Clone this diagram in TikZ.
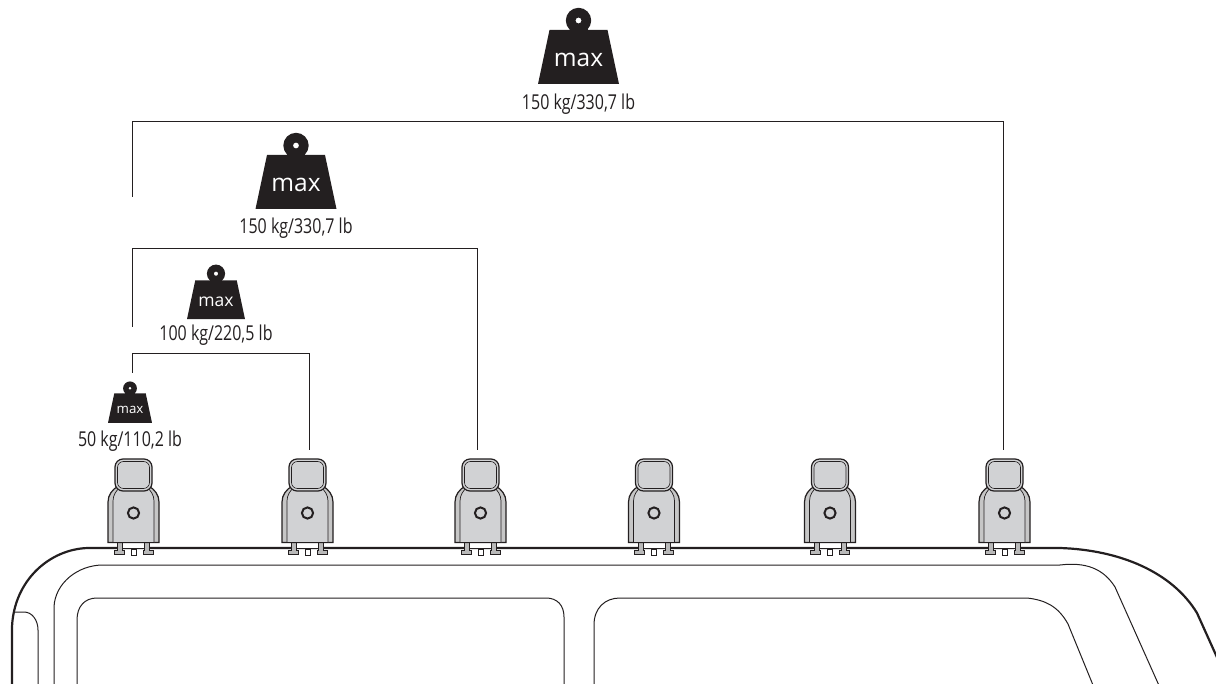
\documentclass[tikz,border=0pt]{standalone}
\usepackage{fontspec}
\setmainfont[FakeStretch=0.78]{Open Sans}
\newfontfamily\maxfont{Open Sans}
\usepackage{xcolor}
\usepackage{tikz}
\usetikzlibrary{positioning}
\definecolor{clampgrey}{HTML}{D1D2D4}
\definecolor{inkblack}{HTML}{231F20}

\begin{document}
\begin{tikzpicture}[
    x=1pt,y=-1pt,
    roofline/.style={draw=inkblack,line width=1pt},
    bracket/.style={draw=inkblack,line width=1pt},
    caption/.style={text=inkblack,font=\fontsize{20.5}{22}\selectfont,inner sep=0pt},
    clampline/.style={draw=inkblack,line width=1pt,fill=clampgrey},
    weight/.pic={
        \fill[inkblack] (-29,23) -- (29,23) -- (40.5,77) -- (-40.5,77) -- cycle;
        \fill[inkblack,even odd rule] (0,13.5) circle (12.7) (0,13.5) circle (3);
        \fill[inkblack] (-9,20) rectangle (9,24);
        \node[transform shape,text=white,font=\maxfont\fontsize{24.5}{24.5}\selectfont,inner sep=0pt] at (0,53) {max};
    },
    clamp/.pic={
        % feet and pins
        \draw[clampline,fill=white,line width=0.6pt] (-2.5,36) rectangle (2.5,42);
        \draw[clampline,line width=0.6pt,fill=white] (-14,29) rectangle (14,35);
        \draw[clampline,fill=gray!55] (-19.5,37) -- (-16,37) -- (-16,29) -- (-11,29) -- (-11,37)
            -- (-9.5,37) -- (-9.5,41.5) -- (-19.5,41.5) -- cycle;
        \draw[clampline,fill=gray!55] (19.5,37) -- (16,37) -- (16,29) -- (11,29) -- (11,37)
            -- (9.5,37) -- (9.5,41.5) -- (19.5,41.5) -- cycle;
        % body
        \draw[clampline,fill=gray!45,line width=1.2pt] (-25.5,29.5) -- (-25.5,-11)
            .. controls (-25.5,-18) and (-21,-24) .. (-15,-27)
            -- (15,-27) .. controls (21,-24) and (25.5,-18) .. (25.5,-11) -- (25.5,29.5) -- cycle;
        \draw[clampline,line width=0.7pt] (-20.5,29.5) -- (-20.5,-12)
            .. controls (-20.5,-18) and (-17,-23) .. (-13,-26)
            -- (13,-26) .. controls (17,-23) and (20.5,-18) .. (20.5,-12) -- (20.5,29.5) -- cycle;
        % head
        \draw[clampline,rounded corners=8pt,line width=1.2pt] (-18.5,-54) rectangle (18.5,-22);
        \draw[draw=inkblack,rounded corners=6pt,line width=0.6pt] (-16,-51.5) rectangle (16,-24.5);
        % bolt
        \draw[draw=inkblack,line width=2pt,fill=clampgrey] (0,0) circle (5.6);
    }
]
\useasboundingbox (0,0) rectangle (1216,684);

% loads
\pic at (578.5,7) {weight};
\pic at (296,132) {weight};
\pic[scale=0.716] at (216,264) {weight};
\pic[scale=0.543] at (130,381) {weight};

\node[caption] (load-a) at (578.5,104) {150 kg/330,7 lb};
\node[caption] (load-b) at (296,228) {150 kg/330,7 lb};
\node[caption] (load-c) at (216,335) {100 kg/220,5 lb};
\node[caption] (load-d) at (130,441) {50 kg/110,2 lb};

% roof
\begin{scope}
\clip (0,0) rectangle (1216,684);
\draw[roofline,line width=2.2pt] (12,690) -- (12,627)
    .. controls (14,580) and (50,549) .. (88,548)
    -- (1060,548) .. controls (1120,550) and (1172,572) .. (1197,613) -- (1220,664);
\draw[roofline] (54,690) -- (54,607) .. controls (55,583) and (78,565) .. (103,565)
    -- (1060,565) .. controls (1085,562) and (1103,568) .. (1115,587) -- (1161,690);
\draw[roofline] (13,612) -- (24,612) .. controls (32,612) and (38,620) .. (38,630) -- (38,690);
\draw[roofline] (77,690) -- (77,620) .. controls (77,606) and (85,598) .. (97,598)
    -- (546,598) .. controls (557,598) and (564,605) .. (564,617) -- (564,690);
\draw[roofline] (594,690) -- (594,625) .. controls (594,608) and (605,598) .. (620,598)
    -- (1027,598) .. controls (1045,600) and (1058,606) .. (1068,624) -- (1095,690);
\end{scope}

% clamps
\foreach \n/\x in {1/133.5,2/307.5,3/480.5,4/654,5/830,6/1004.5}{
    \pic at (\x,513) {clamp};
}

% brackets
\coordinate (top-l) at (132,197);
\coordinate (mid-l) at (132,327);
\coordinate (low-l) at (132,373);
\coordinate (top-r) at (1003,450);
\coordinate (mid-r) at (477,450);
\coordinate (low-r) at (309,450);
\draw[bracket] (top-l) -- (132,122) -- (1003,122) -- (top-r);
\draw[bracket] (mid-l) -- (132,249) -- (477,249) -- (mid-r);
\draw[bracket] (low-l) -- (132,354) -- (309,354) -- (low-r);
\end{tikzpicture}
\end{document}
